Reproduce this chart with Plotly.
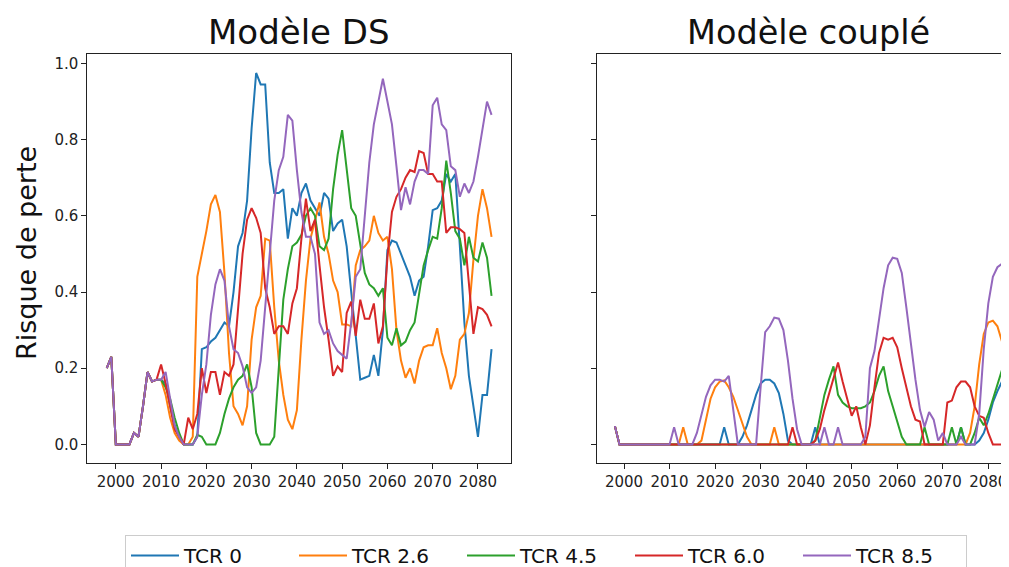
import plotly.graph_objects as go
from plotly.subplots import make_subplots

years = list(range(1998, 2084))
series_names = ["TCR 0", "TCR 2.6", "TCR 4.5", "TCR 6.0", "TCR 8.5"]
colors = ["#1f77b4", "#ff7f0e", "#2ca02c", "#d62728", "#9467bd"]

# ---- Modèle DS (left panel) ----
ds_tcr0 = [0.20, 0.23, 0.00, 0.00, 0.00, 0.00, 0.03, 0.02, 0.10, 0.19, 0.165, 0.17, 0.17,
           0.16, 0.10, 0.05, 0.02, 0.00, 0.00, 0.00, 0.02, 0.25, 0.255,
           0.27, 0.28, 0.30, 0.32, 0.31, 0.40, 0.52, 0.555, 0.64, 0.83,
           0.975, 0.945, 0.945, 0.74, 0.66, 0.66, 0.67, 0.54, 0.62, 0.60,
           0.66, 0.685, 0.64, 0.62, 0.60, 0.66, 0.645, 0.56, 0.58, 0.59,
           0.52, 0.40, 0.29, 0.17, 0.175, 0.18, 0.235, 0.18, 0.30, 0.51,
           0.535, 0.53, 0.50, 0.47, 0.44, 0.39, 0.43, 0.44, 0.52, 0.615,
           0.62, 0.64, 0.71, 0.69, 0.71, 0.52, 0.32, 0.18, 0.10, 0.02,
           0.13, 0.13, 0.25]
ds_tcr26 = [0.20, 0.23, 0.00, 0.00, 0.00, 0.00, 0.03, 0.02, 0.10, 0.19, 0.165, 0.17, 0.17,
            0.13, 0.07, 0.03, 0.01, 0.00, 0.00, 0.02, 0.44, 0.50, 0.56,
            0.63, 0.655, 0.61, 0.45, 0.24, 0.10, 0.08, 0.05, 0.10, 0.275,
            0.36, 0.39, 0.54, 0.535, 0.36, 0.22, 0.13, 0.065, 0.04, 0.09,
            0.275, 0.43, 0.54, 0.59, 0.635, 0.545, 0.50, 0.43, 0.40, 0.315,
            0.315, 0.31, 0.47, 0.51, 0.52, 0.535, 0.60, 0.555, 0.535, 0.545,
            0.46, 0.30, 0.22, 0.175, 0.20, 0.16, 0.22, 0.255, 0.26, 0.26,
            0.305, 0.24, 0.20, 0.145, 0.18, 0.275, 0.29, 0.345, 0.485, 0.60,
            0.67, 0.62, 0.545]
ds_tcr45 = [0.20, 0.23, 0.00, 0.00, 0.00, 0.00, 0.03, 0.02, 0.10, 0.19, 0.165, 0.17, 0.17,
            0.15, 0.12, 0.07, 0.03, 0.00, 0.00, 0.00, 0.025, 0.02, 0.00,
            0.00, 0.00, 0.03, 0.08, 0.12, 0.15, 0.17, 0.18, 0.21, 0.15,
            0.03, 0.00, 0.00, 0.00, 0.02, 0.20, 0.38, 0.46, 0.52, 0.53,
            0.55, 0.60, 0.62, 0.60, 0.52, 0.51, 0.54, 0.67, 0.76, 0.825,
            0.73, 0.62, 0.60, 0.52, 0.45, 0.42, 0.41, 0.39, 0.41, 0.28,
            0.26, 0.305, 0.26, 0.27, 0.30, 0.32, 0.40, 0.47, 0.51, 0.545,
            0.54, 0.62, 0.745, 0.66, 0.56, 0.54, 0.47, 0.545, 0.49, 0.48,
            0.53, 0.49, 0.39]
ds_tcr60 = [0.20, 0.23, 0.00, 0.00, 0.00, 0.00, 0.03, 0.02, 0.10, 0.19, 0.165, 0.17, 0.21,
            0.16, 0.10, 0.04, 0.02, 0.00, 0.07, 0.04, 0.08, 0.20, 0.135,
            0.19, 0.19, 0.13, 0.19, 0.18, 0.21, 0.35, 0.50, 0.59, 0.62,
            0.595, 0.555, 0.41, 0.36, 0.29, 0.31, 0.31, 0.29, 0.37, 0.41,
            0.54, 0.645, 0.56, 0.59, 0.47, 0.36, 0.275, 0.18, 0.205, 0.19,
            0.345, 0.375, 0.285, 0.38, 0.33, 0.33, 0.37, 0.265, 0.31, 0.49,
            0.61, 0.65, 0.67, 0.70, 0.72, 0.715, 0.77, 0.765, 0.71, 0.71,
            0.69, 0.69, 0.555, 0.57, 0.57, 0.565, 0.555, 0.43, 0.29, 0.36,
            0.355, 0.34, 0.31]
ds_tcr85 = [0.20, 0.23, 0.00, 0.00, 0.00, 0.00, 0.03, 0.02, 0.10, 0.19, 0.165, 0.17, 0.17,
            0.19, 0.12, 0.05, 0.02, 0.00, 0.00, 0.00, 0.02, 0.13, 0.21,
            0.34, 0.42, 0.46, 0.43, 0.31, 0.25, 0.24, 0.205, 0.15, 0.135,
            0.15, 0.22, 0.36, 0.49, 0.64, 0.72, 0.755, 0.865, 0.85, 0.72,
            0.61, 0.545, 0.545, 0.50, 0.32, 0.29, 0.30, 0.265, 0.245, 0.235,
            0.225, 0.32, 0.44, 0.46, 0.61, 0.74, 0.84, 0.90, 0.96, 0.90,
            0.84, 0.73, 0.615, 0.675, 0.63, 0.69, 0.72, 0.72, 0.71, 0.89,
            0.91, 0.84, 0.825, 0.73, 0.72, 0.65, 0.685, 0.66, 0.69, 0.755,
            0.825, 0.90, 0.865]

# ---- Modèle couplé (right panel) ----
cp_tcr0 = [0.048, 0.0,
           0, 0, 0, 0, 0, 0, 0, 0, 0, 0,
           0, 0, 0, 0, 0, 0, 0, 0, 0, 0,
           0, 0, 0.045, 0, 0, 0, 0.02, 0.05, 0.09, 0.13,
           0.16, 0.17, 0.17, 0.16, 0.135, 0.08, 0.01, 0, 0, 0,
           0, 0, 0.045, 0, 0, 0, 0, 0, 0, 0,
           0, 0, 0, 0, 0, 0, 0, 0, 0, 0,
           0, 0, 0, 0, 0, 0, 0, 0, 0, 0,
           0, 0, 0, 0, 0.045, 0, 0, 0, 0.01, 0.03,
           0.065, 0.11, 0.14, 0.165]
cp_tcr26 = [0.048, 0.0,
            0, 0, 0, 0, 0, 0, 0, 0, 0, 0,
            0, 0, 0, 0.045, 0, 0, 0, 0.01, 0.07, 0.12,
            0.15, 0.165, 0.168, 0.15, 0.125, 0.09, 0.05, 0.02, 0, 0,
            0, 0, 0, 0.045, 0, 0, 0, 0, 0, 0,
            0, 0, 0, 0, 0, 0, 0, 0, 0, 0,
            0, 0, 0, 0, 0, 0, 0, 0, 0, 0,
            0, 0, 0, 0, 0, 0, 0, 0, 0, 0,
            0, 0, 0, 0, 0, 0, 0.03, 0.10, 0.21, 0.29,
            0.32, 0.325, 0.31, 0.27]
cp_tcr45 = [0.048, 0.0,
            0, 0, 0, 0, 0, 0, 0, 0, 0, 0,
            0, 0, 0, 0, 0, 0, 0, 0, 0, 0,
            0, 0, 0, 0, 0, 0, 0, 0, 0, 0,
            0, 0, 0, 0, 0, 0, 0, 0, 0, 0,
            0, 0, 0.01, 0.07, 0.13, 0.17, 0.205, 0.13, 0.11, 0.10,
            0.095, 0.095, 0.095, 0.10, 0.11, 0.14, 0.18, 0.205, 0.14, 0.10,
            0.06, 0.02, 0, 0, 0, 0, 0.045, 0, 0, 0,
            0, 0, 0.045, 0, 0.045, 0, 0, 0.03, 0.07, 0.05,
            0.08, 0.12, 0.16, 0.195]
cp_tcr60 = [0.048, 0.0,
            0, 0, 0, 0, 0, 0, 0, 0, 0, 0,
            0, 0, 0, 0, 0, 0, 0, 0, 0, 0,
            0, 0, 0, 0, 0, 0, 0, 0, 0, 0,
            0, 0, 0, 0, 0, 0, 0, 0.045, 0, 0,
            0, 0, 0.01, 0.04, 0.09, 0.13, 0.17, 0.215, 0.165, 0.12,
            0.075, 0.10, 0.045, 0.0, 0.05, 0.15, 0.24, 0.28, 0.275, 0.28,
            0.255, 0.20, 0.15, 0.10, 0.065, 0.06, 0, 0, 0, 0,
            0, 0.11, 0.115, 0.15, 0.165, 0.165, 0.15, 0.10, 0.075, 0.07,
            0.03, 0, 0, 0]
cp_tcr85 = [0.048, 0.0,
            0, 0, 0, 0, 0, 0, 0, 0, 0, 0,
            0, 0.045, 0, 0, 0, 0, 0.03, 0.08, 0.125, 0.155,
            0.17, 0.17, 0.165, 0.18, 0.09, 0, 0, 0, 0, 0,
            0.15, 0.295, 0.31, 0.333, 0.33, 0.30, 0.22, 0.12, 0.04, 0,
            0, 0, 0, 0, 0.045, 0, 0, 0.045, 0, 0,
            0, 0, 0, 0.02, 0.20, 0.245, 0.33, 0.41, 0.47, 0.49,
            0.487, 0.45, 0.36, 0.26, 0.17, 0.09, 0.046, 0.085, 0.065, 0.01,
            0.03, 0, 0, 0, 0.02, 0, 0, 0, 0.08, 0.25,
            0.37, 0.44, 0.465, 0.474]

ds_series = [ds_tcr0, ds_tcr26, ds_tcr45, ds_tcr60, ds_tcr85]
cp_series = [cp_tcr0, cp_tcr26, cp_tcr45, cp_tcr60, cp_tcr85]

x_ticks = [2000, 2010, 2020, 2030, 2040, 2050, 2060, 2070, 2080]
y_ticks = [0.0, 0.2, 0.4, 0.6, 0.8, 1.0]
y_tick_text = ["0.0", "0.2", "0.4", "0.6", "0.8", "1.0"]

# page has an 8px body offset; layout below is expressed in figure pixels
OFF = 8
W, H = 1009, 567
ml, mr, mt, mb = 79, 0, 46, 112
pw = W - ml - mr
ph = H - mt - mb


def px(sx):
    return (sx - OFF - ml) / pw


def py(sy):
    return (mt + ph - (sy - OFF)) / ph


fig = make_subplots(rows=1, cols=2, shared_yaxes=False)

for name, col, ys in zip(series_names, colors, ds_series):
    fig.add_trace(go.Scatter(x=years, y=ys, mode="lines", name=name,
                             line=dict(color=col, width=2), legendgroup=name,
                             showlegend=True), row=1, col=1)
for name, col, ys in zip(series_names, colors, cp_series):
    fig.add_trace(go.Scatter(x=years, y=ys, mode="lines", name=name,
                             line=dict(color=col, width=2), legendgroup=name,
                             showlegend=False), row=1, col=2)

tickfont = dict(family="DejaVu Sans", size=15, color="#222222")
yr = [-0.0488, 1.0248]
common = dict(ticks="outside", ticklen=5, tickcolor="#222", showline=True,
              linecolor="#222", linewidth=1, showgrid=False, zeroline=False,
              automargin=False)

fig.update_layout(
    template="none",
    width=W, height=H,
    margin=dict(l=ml, r=mr, t=mt, b=mb, autoexpand=False),
    plot_bgcolor="white", paper_bgcolor="white",
    font=dict(family="DejaVu Sans", color="#111111"),
    xaxis=dict(domain=[max(px(87.3), 0), px(511)], range=[1993.7, 2087.3],
               tickvals=x_ticks, mirror=True, tickfont=tickfont, **common),
    yaxis=dict(range=yr, tickvals=y_ticks, ticktext=y_tick_text,
               mirror=True, tickfont=tickfont, **common),
    xaxis2=dict(domain=[px(596.7), 1], range=[1994.0, 2086.3],
                tickvals=x_ticks, mirror=True, tickfont=tickfont, **common),
    yaxis2=dict(range=yr, tickvals=y_ticks, showticklabels=False,
                mirror=False, **common),
    legend=dict(orientation="h", x=px(125), xanchor="left",
                y=py(535), yanchor="top",
                bgcolor="white", bordercolor="#cccccc", borderwidth=1,
                font=dict(family="DejaVu Sans", size=20, color="#111"),
                itemwidth=48, entrywidth=105, entrywidthmode="pixels",
                traceorder="normal"),
    showlegend=True,
)

fig.add_annotation(text="Modèle DS", xref="paper", yref="paper",
                   x=px(299), y=py(32), xanchor="center", yanchor="middle",
                   showarrow=False, font=dict(family="DejaVu Sans", size=34, color="#111"))
fig.add_annotation(text="Modèle couplé", xref="paper", yref="paper",
                   x=px(808), y=py(32), xanchor="center", yanchor="middle",
                   showarrow=False, font=dict(family="DejaVu Sans", size=33.5, color="#111"))
fig.add_annotation(text="Risque de perte", xref="paper", yref="paper",
                   x=px(26), y=py(253), xanchor="center", yanchor="middle",
                   textangle=-90, showarrow=False,
                   font=dict(family="DejaVu Sans", size=27, color="#111"))

fig.write_html("out.html")
